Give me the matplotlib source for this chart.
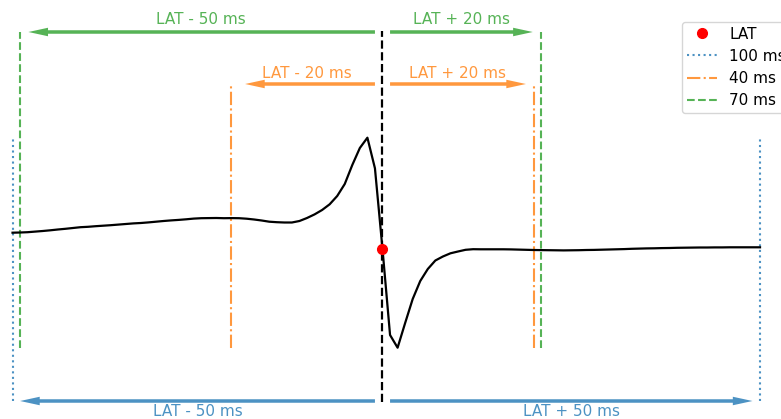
import matplotlib

matplotlib.use("Agg")
import matplotlib.pyplot as plt

# Bipolar electrogram around the local activation time (LAT = 0 ms), 1 kHz sampling
time_ms = list(range(-49, 51))
signal_mv = [
    0.163, 0.165, 0.168, 0.174, 0.180, 0.187, 0.195, 0.202, 0.210, 0.218,
    0.222, 0.228, 0.233, 0.238, 0.244, 0.250, 0.256, 0.260, 0.266, 0.273,
    0.280, 0.286, 0.291, 0.297, 0.304, 0.308, 0.309, 0.310, 0.308, 0.309,
    0.308, 0.303, 0.295, 0.285, 0.273, 0.268, 0.265, 0.265, 0.280, 0.310,
    0.346, 0.390, 0.447, 0.530, 0.650, 0.840, 1.010, 1.113, 0.807, 0.000,
    -0.860, -0.987, -0.740, -0.500, -0.320, -0.200, -0.115, -0.075, -0.043, -0.025,
    -0.008, -0.002, -0.003, -0.003, -0.003, -0.003, -0.004, -0.006, -0.008, -0.010,
    -0.011, -0.012, -0.013, -0.014, -0.013, -0.012, -0.010, -0.009, -0.007, -0.005,
    -0.003, -0.001, 0.002, 0.004, 0.006, 0.007, 0.009, 0.010, 0.012, 0.013,
    0.014, 0.015, 0.015, 0.016, 0.016, 0.017, 0.017, 0.017, 0.017, 0.017,
]
lat_ms = 0

# Analysis windows around LAT
window_labels = ["100 ms", "40 ms", "70 ms"]
window_start = [-49, -20, -48]
window_end = [50, 20, 21]
window_colors = ["tab:blue", "tab:orange", "tab:green"]
window_styles = [":", "-.", "--"]
window_top = [1.12, 1.64, 2.17]
window_bottom = [-1.52, -0.99, -0.99]
arrow_y = [-1.52, 1.65, 2.17]
arrow_left_tip = [-48.0, -18.2, -46.9]
arrow_right_tip = [49.0, 19.0, 19.9]
text_y = [-1.62, 1.76, 2.29]
left_text = ["LAT - 50 ms", "LAT - 20 ms", "LAT - 50 ms"]
right_text = ["LAT + 50 ms", "LAT + 20 ms", "LAT + 20 ms"]

fig = plt.figure(figsize=(7.81, 4.19), dpi=100, facecolor="white")
ax = fig.add_axes([0, 0, 1, 1])
ax.set_xlim(-50.66, 52.78)
ax.set_ylim(-1.70, 2.49)
ax.axis("off")

ax.plot(time_ms, signal_mv, color="black", lw=1.6, zorder=3)
ax.plot([lat_ms, lat_ms], [-1.53, 2.18], color="black", ls="--", lw=1.6, zorder=2)
lat_value = signal_mv[time_ms.index(lat_ms)]
ax.plot(lat_ms, lat_value, "o", color="red", ms=7, zorder=4, label="LAT")

for i, label in enumerate(window_labels):
    color = window_colors[i]
    for k, x in enumerate((window_start[i], window_end[i])):
        ax.plot(
            [x, x],
            [window_bottom[i], window_top[i]],
            color=color,
            ls=window_styles[i],
            lw=1.5,
            alpha=0.8,
            label=label if k == 0 else None,
        )
    for tail, tip in ((lat_ms - 1, arrow_left_tip[i]), (lat_ms + 1, arrow_right_tip[i])):
        ax.arrow(
            tail,
            arrow_y[i],
            tip - tail,
            0,
            width=0.035,
            head_width=0.085,
            head_length=2.6,
            length_includes_head=True,
            color=color,
            alpha=0.8,
            lw=0,
        )
    ax.text((window_start[i] + lat_ms) / 2, text_y[i], left_text[i],
            color=color, alpha=0.8, ha="center", va="center", fontsize=11)
    ax.text((window_end[i] + lat_ms) / 2, text_y[i], right_text[i],
            color=color, alpha=0.8, ha="center", va="center", fontsize=11)

# legend box runs past the right edge of the figure
ax.legend(
    loc="upper left",
    bbox_to_anchor=(682 / 781, 1 - 22 / 419),
    bbox_transform=fig.transFigure,
    borderaxespad=0,
    borderpad=0.3,
    labelspacing=0.47,
    fontsize=11,
)

fig.savefig("out.png", dpi=100)
plt.close(fig)
